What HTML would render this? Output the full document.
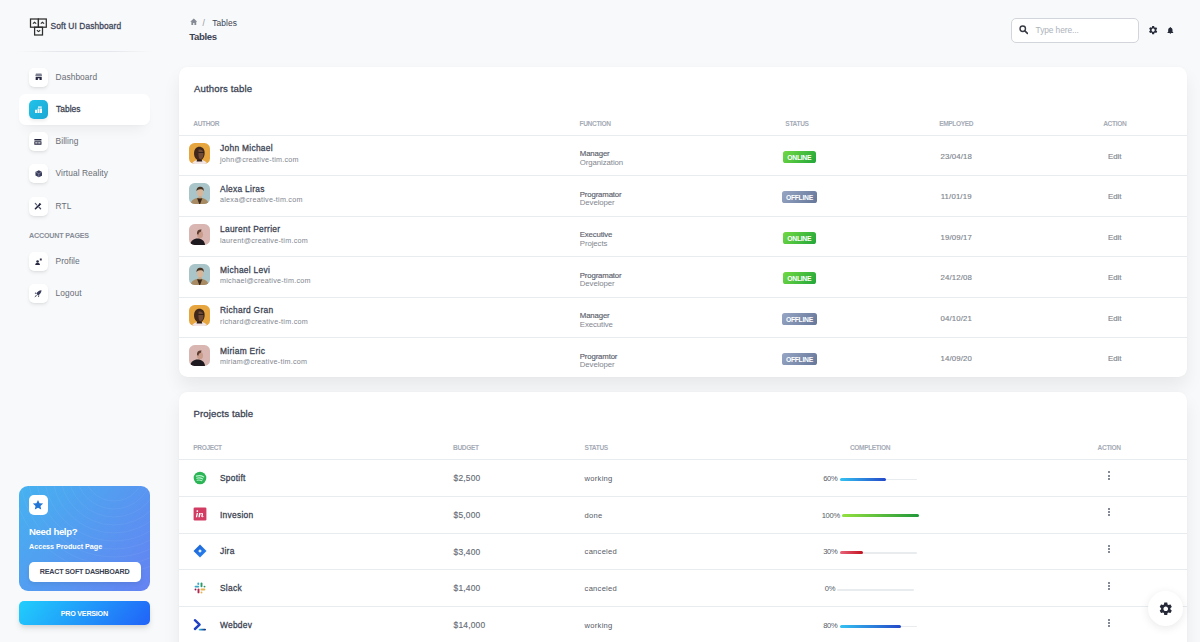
<!DOCTYPE html><html><head><meta charset="utf-8"><style>
*{margin:0;padding:0;box-sizing:border-box}
html,body{width:1200px;height:642px;overflow:hidden;background:#f8f9fa;font-family:"Liberation Sans",sans-serif}
.t{position:absolute;line-height:1;white-space:nowrap}
.a{position:absolute}
.card{position:absolute;background:#fff;border-radius:8.5px;box-shadow:0 10px 18px 0 rgba(0,0,0,.065),0 0 2px rgba(0,0,0,.03)}
.ib{position:absolute;width:19.2px;height:19.2px;border-radius:5px;background:#fff;box-shadow:0 2px 4px -1px rgba(20,20,20,.12),0 1px 2px -1px rgba(20,20,20,.08);display:flex;align-items:center;justify-content:center}
.hr{position:absolute;height:1px;background:#e9ecef}
</style></head><body>
<svg class="a" style="left:29px;top:17px" width="19" height="20" viewBox="0 0 19 20">
<g fill="none" stroke="#2e2e2e" stroke-width="1.25">
<rect x="1.5" y="2" width="7.9" height="8.2"/><rect x="9.4" y="2" width="7.9" height="8.2"/><rect x="5.6" y="10.2" width="7.9" height="7.8"/>
<path d="M3.9 6.6l1.65-1.3 1.65 1.3M11.8 6.6l1.65-1.3 1.65 1.3M7.9 13.3l1.65 1.3 1.65-1.3" stroke-width="1.2"/>
</g></svg>
<div class="t" style="left:50.60px;top:21.69px;font-size:8.4px;font-weight:400;-webkit-text-stroke:.28px #40465a;color:#40465a;letter-spacing:0.1px;">Soft UI Dashboard</div>
<div class="a" style="left:18px;top:50.5px;width:134px;height:1px;background:linear-gradient(90deg,rgba(52,71,103,0),rgba(52,71,103,.1) 30%,rgba(52,71,103,.1) 70%,rgba(52,71,103,0))"></div>
<div class="a" style="left:19.4px;top:93.7px;width:130.6px;height:31.4px;background:#fff;border-radius:6.5px;box-shadow:0 10px 14px -6px rgba(0,0,0,.06),0 1px 3px rgba(0,0,0,.02)"></div>
<div class="ib" style="left:28.8px;top:67.6px"><svg width="7.4" height="7.6" viewBox="0 0 10 10"><path d="M1.3.6h7.4l1 3.4H.3z" fill="#7d8192"/><path d="M.9 4.9h8.2v4.6H6.1V7.1H3.9v2.4H.9z" fill="#262842"/></svg></div>
<div class="t" style="left:55.60px;top:72.89px;font-size:8.4px;font-weight:400;color:#686d77;letter-spacing:0.06px;">Dashboard</div>
<div class="ib" style="left:28.8px;top:99.8px;background:linear-gradient(310deg,#1aa6d3,#21c3ea);box-shadow:0 2px 4px -1px rgba(20,20,20,.12)"><svg width="7.6" height="7.6" viewBox="0 0 10 10"><path d="M3.9.5h5v1.9h-5z" fill="#fff" opacity=".85"/><path d="M0 5h2.6v4.4H0zM3.3 3.4h2.7v6H3.3zM6.7 3.4H10v6H6.7z" fill="#fff"/></svg></div>
<div class="t" style="left:56.00px;top:104.89px;font-size:8.4px;font-weight:400;-webkit-text-stroke:.28px #3b4353;color:#3b4353;letter-spacing:0.05px;">Tables</div>
<div class="ib" style="left:28.8px;top:131.9px"><svg width="7.8" height="7.6" viewBox="0 0 10 10"><rect x=".3" y="1.2" width="9.4" height="2.2" rx=".4" fill="#262842"/><rect x=".3" y="4.4" width="9.4" height="4.4" rx=".4" fill="#262842"/><rect x="1.5" y="5.7" width="3.1" height="1.5" fill="#fff"/><rect x="5.4" y="5.7" width="3.1" height="1.5" fill="#fff"/></svg></div>
<div class="t" style="left:55.60px;top:137.19px;font-size:8.4px;font-weight:400;color:#686d77;letter-spacing:0.06px;">Billing</div>
<div class="ib" style="left:28.8px;top:164.3px"><svg width="7.6" height="7.6" viewBox="0 0 10 10"><path d="M5 .4l4.4 2.2v4.8L5 9.6.6 7.4V2.6z" fill="#3a3c5c"/><path d="M.6 2.6L5 4.8l4.4-2.2M5 4.8v4.8" stroke="#a3a7bd" stroke-width=".75" fill="none"/></svg></div>
<div class="t" style="left:55.60px;top:168.79px;font-size:8.4px;font-weight:400;color:#686d77;letter-spacing:0.06px;">Virtual Reality</div>
<div class="ib" style="left:28.8px;top:196.5px"><svg width="8" height="8" viewBox="0 0 10 10"><path d="M1.8 8.4l5.2-5.2" stroke="#262842" stroke-width="2" stroke-linecap="round"/><path d="M6.3 1.3a2.1 2.1 0 0 1 2.6 2.5L7.5 3.4 6.6 2.6z" fill="#262842"/><path d="M1.6 1.8l1.7 1.7" stroke="#5a5d72" stroke-width="1.5" stroke-linecap="round"/><path d="M6.2 6.4l2 2" stroke="#4a4d62" stroke-width="1.7" stroke-linecap="round"/></svg></div>
<div class="t" style="left:55.60px;top:201.79px;font-size:8.4px;font-weight:400;color:#686d77;letter-spacing:0.06px;">RTL</div>
<div class="t" style="left:29.00px;top:232.11px;font-size:7.2px;font-weight:700;color:#878d98;letter-spacing:-0.2px;">ACCOUNT PAGES</div>
<div class="ib" style="left:28.8px;top:252px"><svg width="7.6" height="7.6" viewBox="0 0 10 10"><circle cx="3.4" cy="4.6" r="1.7" fill="#262842"/><path d="M.2 9.6c0-2.2 1.4-3.2 3.2-3.2s3.2 1 3.2 3.2z" fill="#262842"/><path d="M6.4.6h1.4v2.8H6.4zM8.3.6h1.4v2.8H8.3z" fill="#262842"/></svg></div>
<div class="t" style="left:55.60px;top:256.89px;font-size:8.4px;font-weight:400;color:#686d77;letter-spacing:0.06px;">Profile</div>
<div class="ib" style="left:28.8px;top:284.3px"><svg width="7.8" height="7.8" viewBox="0 0 10 10"><path d="M9.6.4C6.6.6 4.3 2.1 3.1 4.8l2.1 2.1C7.9 5.7 9.4 3.4 9.6.4z" fill="#3a3c5c"/><path d="M3.1 4.8L.8 4.6 2.5 2.9zM5.2 6.9L5.4 9.2 7.1 7.5zM2.6 6.3L.4 9.6 3.7 7.4z" fill="#262842"/></svg></div>
<div class="t" style="left:55.60px;top:289.19px;font-size:8.4px;font-weight:400;color:#686d77;letter-spacing:0.06px;">Logout</div>
<div class="a" style="left:19.4px;top:486px;width:130.4px;height:104.6px;border-radius:9px;overflow:hidden;background:linear-gradient(310deg,#6582f2,#45b2f0)">
<svg class="a" style="left:0;top:0" width="131" height="105" viewBox="0 0 131 105"><g fill="none" stroke="#fff" stroke-opacity=".06" stroke-width="1">
<circle cx="95" cy="-15" r="30"/><circle cx="95" cy="-15" r="38"/><circle cx="95" cy="-15" r="46"/><circle cx="95" cy="-15" r="54"/><circle cx="95" cy="-15" r="62"/><circle cx="95" cy="-15" r="70"/><circle cx="95" cy="-15" r="78"/><circle cx="95" cy="-15" r="86"/><circle cx="95" cy="-15" r="94"/><circle cx="95" cy="-15" r="102"/></g></svg>
</div>
<div class="a" style="left:28.8px;top:495px;width:19.2px;height:20px;border-radius:5px;background:#fff;display:flex;align-items:center;justify-content:center"><svg width="12" height="12" viewBox="0 0 24 24"><path d="M12 1.8l3.1 6.6 7.2.8-5.4 4.9 1.5 7.1L12 17.6l-6.4 3.6 1.5-7.1L1.7 9.2l7.2-.8z" fill="#1f74d6"/></svg></div>
<div class="t" style="left:29.00px;top:526.87px;font-size:9.6px;font-weight:700;color:#fff;letter-spacing:-0.35px;">Need help?</div>
<div class="t" style="left:29.00px;top:542.71px;font-size:7.2px;font-weight:700;color:#fff;letter-spacing:-0.02px;">Access Product Page</div>
<div class="a" style="left:28.8px;top:562px;width:112.4px;height:20px;border-radius:5px;background:#fff;box-shadow:0 2px 4px rgba(0,0,0,.08)"></div>
<div class="t" style="left:-115.40px;width:400px;text-align:center;top:567.91px;font-size:7.2px;font-weight:700;color:#3b4353;letter-spacing:-0.25px;">REACT SOFT DASHBOARD</div>
<div class="a" style="left:19.4px;top:601px;width:130.4px;height:23.8px;border-radius:5px;background:linear-gradient(310deg,#2162f8,#21cffc);box-shadow:0 4px 7px -1px rgba(0,0,0,.11),0 2px 4px -1px rgba(0,0,0,.07)"></div>
<div class="t" style="left:-115.70px;width:400px;text-align:center;top:609.51px;font-size:7.2px;font-weight:700;color:#fff;letter-spacing:-0.25px;">PRO VERSION</div>
<svg class="a" style="left:189.8px;top:17.6px" width="7.6" height="7.6" viewBox="0 0 10 10"><path d="M5 .6L.3 5h1.5v4.4h2.4V6.7h1.6v2.7h2.4V5h1.5z" fill="#868b96"/></svg>
<div class="t" style="left:202.60px;top:18.89px;font-size:8.4px;font-weight:400;color:#8d93a0;">/</div>
<div class="t" style="left:212.30px;top:18.89px;font-size:8.4px;font-weight:400;color:#3b4353;letter-spacing:0.08px;">Tables</div>
<div class="t" style="left:189.30px;top:31.57px;font-size:9.6px;font-weight:700;color:#3b4353;letter-spacing:-0.38px;">Tables</div>
<div class="a" style="left:1011.4px;top:18.2px;width:127.5px;height:24.8px;border:1px solid #d2d6da;border-radius:5px;background:#fff"></div>
<svg class="a" style="left:1018.6px;top:25.4px" width="9.4" height="9.4" viewBox="0 0 10 10"><circle cx="4" cy="4" r="2.9" fill="none" stroke="#383b44" stroke-width="1.5"/><path d="M6.2 6.2l2.8 2.8" stroke="#383b44" stroke-width="1.7" stroke-linecap="round"/></svg>
<div class="t" style="left:1035.60px;top:26.49px;font-size:8.4px;font-weight:400;color:#adb3bb;letter-spacing:-0.1px;">Type here...</div>
<svg class="a" style="left:1147.6px;top:25.4px" width="10.3" height="10.3" viewBox="0 0 24 24"><path fill="#262a38" d="M19.14 12.94c.04-.3.06-.61.06-.94 0-.32-.02-.64-.07-.94l2.03-1.58c.18-.14.23-.41.12-.61l-1.92-3.32c-.12-.22-.37-.29-.59-.22l-2.39.96c-.5-.38-1.03-.7-1.62-.94l-.36-2.54c-.04-.24-.24-.41-.48-.41h-3.84c-.24 0-.43.17-.47.41l-.36 2.54c-.59.24-1.13.57-1.62.94l-2.39-.96c-.22-.08-.47 0-.59.22L2.74 8.87c-.12.21-.08.47.12.61l2.03 1.58c-.05.3-.09.63-.09.94s.02.64.07.94l-2.03 1.58c-.18.14-.23.41-.12.61l1.92 3.32c.12.22.37.29.59.22l2.39-.96c.5.38 1.03.7 1.62.94l.36 2.54c.05.24.24.41.48.41h3.84c.24 0 .44-.17.47-.41l.36-2.54c.59-.24 1.130-.56 1.62-.94l2.39.96c.22.08.47 0 .59-.22l1.92-3.32c.12-.22.07-.47-.12-.61l-2.01-1.58zM12 15.6c-1.98 0-3.6-1.62-3.6-3.6s1.62-3.6 3.6-3.6 3.6 1.62 3.6 3.6-1.62 3.6-3.6 3.6z"/></svg>
<svg class="a" style="left:1165.55px;top:25.8px" width="8.7" height="8.7" viewBox="0 0 24 24"><path fill="#262a38" d="M12 22c1.1 0 2-.9 2-2h-4c0 1.1.89 2 2 2zm6-6v-5c0-3.07-1.64-5.64-4.5-6.32V4c0-.83-.67-1.5-1.5-1.5s-1.5.67-1.5 1.5v.68C7.630 5.36 6 7.92 6 11v5l-2 2v1h16v-1l-2-2z"/></svg>
<div class="card" style="left:178.6px;top:66.8px;width:1008px;height:310.4px"></div>
<div class="t" style="left:194.00px;top:83.67px;font-size:9.6px;font-weight:400;-webkit-text-stroke:.28px #3b4353;color:#3b4353;letter-spacing:0.12px;">Authors table</div>
<div class="t" style="left:193.30px;top:120.51px;font-size:6.6px;font-weight:700;color:#a5abb6;letter-spacing:-0.4px;">AUTHOR</div>
<div class="t" style="left:579.60px;top:120.51px;font-size:6.6px;font-weight:700;color:#a5abb6;letter-spacing:-0.38px;">FUNCTION</div>
<div class="t" style="left:597.00px;width:400px;text-align:center;top:120.51px;font-size:6.6px;font-weight:700;color:#a5abb6;letter-spacing:-0.35px;">STATUS</div>
<div class="t" style="left:756.20px;width:400px;text-align:center;top:120.51px;font-size:6.6px;font-weight:700;color:#a5abb6;letter-spacing:-0.38px;">EMPLOYED</div>
<div class="t" style="left:914.80px;width:400px;text-align:center;top:120.51px;font-size:6.6px;font-weight:700;color:#a5abb6;letter-spacing:-0.35px;">ACTION</div>
<div class="hr" style="left:178.6px;top:134.5px;width:1008px"></div>
<div class="a" style="left:189.2px;top:142.8px;width:21.2px;height:21.2px;border-radius:5.6px;overflow:hidden;background:#e6a53e"><svg width="21.2" height="21.2" viewBox="0 0 21 21" style="display:block"><path d="M2.5 22c.5-3.5 3.5-5.5 8-5.5s7.5 2 8 5.5z" fill="#f0e4e4"/><path d="M5 10.5C5 6 7.2 3.8 10.3 3.8s5.2 2.2 5.2 6.2c0 3.8-2 7.3-5 7.3S5 14.8 5 10.5z" fill="#3f271c"/><path d="M9.5 6.5c2.5-.5 4.6.8 4.8 3.8.2 3-1.2 5.5-3.2 6-1.5-1-2-3.5-1.6-9.8z" fill="#6e4a37"/><path d="M9.2 9.4h5.6" stroke="#2a1a12" stroke-width=".9"/><path d="M8 16.5h4.6l.6 1.8H7.5z" fill="#2c1a12"/></svg></div>
<div class="t" style="left:220.00px;top:144.29px;font-size:8.4px;font-weight:400;-webkit-text-stroke:.28px #3b4353;color:#3b4353;letter-spacing:0.3px;">John Michael</div>
<div class="t" style="left:220.00px;top:155.71px;font-size:7.2px;font-weight:400;color:#81868f;letter-spacing:0.25px;">john@creative-tim.com</div>
<div class="t" style="left:579.80px;top:150.20px;font-size:7.8px;font-weight:400;-webkit-text-stroke:.15px #5b616c;color:#5b616c;letter-spacing:-0.15px;">Manager</div>
<div class="t" style="left:579.80px;top:158.50px;font-size:7.8px;font-weight:400;color:#81868f;letter-spacing:-0.08px;">Organization</div>
<div class="a" style="left:783px;top:150.70px;width:32.5px;height:12px;border-radius:2.6px;background:linear-gradient(310deg,#22a63a,#72d942)"></div>
<div class="t" style="left:599.25px;width:400px;text-align:center;top:154.94px;font-size:6.8px;font-weight:700;color:#fff;letter-spacing:-0.3px;">ONLINE</div>
<div class="t" style="left:756.20px;width:400px;text-align:center;top:152.50px;font-size:7.8px;font-weight:400;-webkit-text-stroke:.15px #81868f;color:#81868f;letter-spacing:0.15px;">23/04/18</div>
<div class="t" style="left:914.80px;width:400px;text-align:center;top:152.50px;font-size:7.8px;font-weight:400;-webkit-text-stroke:.15px #81868f;color:#81868f;">Edit</div>
<div class="hr" style="left:178.6px;top:175.30px;width:1008px"></div>
<div class="a" style="left:189.2px;top:183.3px;width:21.2px;height:21.2px;border-radius:5.6px;overflow:hidden;background:#a9c5c9"><svg width="21.2" height="21.2" viewBox="0 0 21 21" style="display:block"><path d="M1.5 22c0-4.8 3.5-7.5 9-7.5s9 2.7 9 7.5z" fill="#a98b63"/><path d="M8 15l2.6 7 2.6-7z" fill="#3a281a"/><ellipse cx="11" cy="9.4" rx="3.1" ry="4" fill="#d9b698"/><path d="M7.5 8.2c-.4-3.5 2.2-4.7 4.4-4.4 2 .3 3.1 1.7 2.6 4.5l-.9-1.6c-1.8-.6-3.8-.6-5.5.4z" fill="#4a3524"/><path d="M9.5 13.2h3v2h-3z" fill="#caa684"/></svg></div>
<div class="t" style="left:220.00px;top:184.79px;font-size:8.4px;font-weight:400;-webkit-text-stroke:.28px #3b4353;color:#3b4353;letter-spacing:0.3px;">Alexa Liras</div>
<div class="t" style="left:220.00px;top:196.21px;font-size:7.2px;font-weight:400;color:#81868f;letter-spacing:0.25px;">alexa@creative-tim.com</div>
<div class="t" style="left:579.80px;top:190.70px;font-size:7.8px;font-weight:400;-webkit-text-stroke:.15px #5b616c;color:#5b616c;letter-spacing:-0.15px;">Programator</div>
<div class="t" style="left:579.80px;top:199.00px;font-size:7.8px;font-weight:400;color:#81868f;letter-spacing:-0.08px;">Developer</div>
<div class="a" style="left:781.8px;top:191.20px;width:35.2px;height:12px;border-radius:2.6px;background:linear-gradient(310deg,#65769a,#97a6c3)"></div>
<div class="t" style="left:599.40px;width:400px;text-align:center;top:195.44px;font-size:6.8px;font-weight:700;color:#fff;letter-spacing:-0.3px;">OFFLINE</div>
<div class="t" style="left:756.20px;width:400px;text-align:center;top:193.00px;font-size:7.8px;font-weight:400;-webkit-text-stroke:.15px #81868f;color:#81868f;letter-spacing:0.15px;">11/01/19</div>
<div class="t" style="left:914.80px;width:400px;text-align:center;top:193.00px;font-size:7.8px;font-weight:400;-webkit-text-stroke:.15px #81868f;color:#81868f;">Edit</div>
<div class="hr" style="left:178.6px;top:215.80px;width:1008px"></div>
<div class="a" style="left:189.2px;top:223.8px;width:21.2px;height:21.2px;border-radius:5.6px;overflow:hidden;background:#d9b6b1"><svg width="21.2" height="21.2" viewBox="0 0 21 21" style="display:block"><path d="M1 22c0-4.8 3.3-7.6 7.6-7.6s7.4 2.8 7.4 7.6z" fill="#1d191e"/><ellipse cx="10.9" cy="10.4" rx="3" ry="3.8" fill="#c89b8a"/><path d="M7.9 9.8c-.3-3.4 1.9-4.8 4.6-4.3l-.8 2.1c-1.7.4-2.3 1.3-2.3 3z" fill="#5b3b30"/></svg></div>
<div class="t" style="left:220.00px;top:225.29px;font-size:8.4px;font-weight:400;-webkit-text-stroke:.28px #3b4353;color:#3b4353;letter-spacing:0.3px;">Laurent Perrier</div>
<div class="t" style="left:220.00px;top:236.71px;font-size:7.2px;font-weight:400;color:#81868f;letter-spacing:0.25px;">laurent@creative-tim.com</div>
<div class="t" style="left:579.80px;top:231.20px;font-size:7.8px;font-weight:400;-webkit-text-stroke:.15px #5b616c;color:#5b616c;letter-spacing:-0.15px;">Executive</div>
<div class="t" style="left:579.80px;top:239.50px;font-size:7.8px;font-weight:400;color:#81868f;letter-spacing:-0.08px;">Projects</div>
<div class="a" style="left:783px;top:231.70px;width:32.5px;height:12px;border-radius:2.6px;background:linear-gradient(310deg,#22a63a,#72d942)"></div>
<div class="t" style="left:599.25px;width:400px;text-align:center;top:235.94px;font-size:6.8px;font-weight:700;color:#fff;letter-spacing:-0.3px;">ONLINE</div>
<div class="t" style="left:756.20px;width:400px;text-align:center;top:233.50px;font-size:7.8px;font-weight:400;-webkit-text-stroke:.15px #81868f;color:#81868f;letter-spacing:0.15px;">19/09/17</div>
<div class="t" style="left:914.80px;width:400px;text-align:center;top:233.50px;font-size:7.8px;font-weight:400;-webkit-text-stroke:.15px #81868f;color:#81868f;">Edit</div>
<div class="hr" style="left:178.6px;top:256.30px;width:1008px"></div>
<div class="a" style="left:189.2px;top:264.3px;width:21.2px;height:21.2px;border-radius:5.6px;overflow:hidden;background:#a9c5c9"><svg width="21.2" height="21.2" viewBox="0 0 21 21" style="display:block"><path d="M1.5 22c0-4.8 3.5-7.5 9-7.5s9 2.7 9 7.5z" fill="#a98b63"/><path d="M8 15l2.6 7 2.6-7z" fill="#3a281a"/><ellipse cx="11" cy="9.4" rx="3.1" ry="4" fill="#d9b698"/><path d="M7.5 8.2c-.4-3.5 2.2-4.7 4.4-4.4 2 .3 3.1 1.7 2.6 4.5l-.9-1.6c-1.8-.6-3.8-.6-5.5.4z" fill="#4a3524"/><path d="M9.5 13.2h3v2h-3z" fill="#caa684"/></svg></div>
<div class="t" style="left:220.00px;top:265.79px;font-size:8.4px;font-weight:400;-webkit-text-stroke:.28px #3b4353;color:#3b4353;letter-spacing:0.3px;">Michael Levi</div>
<div class="t" style="left:220.00px;top:277.21px;font-size:7.2px;font-weight:400;color:#81868f;letter-spacing:0.25px;">michael@creative-tim.com</div>
<div class="t" style="left:579.80px;top:271.70px;font-size:7.8px;font-weight:400;-webkit-text-stroke:.15px #5b616c;color:#5b616c;letter-spacing:-0.15px;">Programator</div>
<div class="t" style="left:579.80px;top:280.00px;font-size:7.8px;font-weight:400;color:#81868f;letter-spacing:-0.08px;">Developer</div>
<div class="a" style="left:783px;top:272.20px;width:32.5px;height:12px;border-radius:2.6px;background:linear-gradient(310deg,#22a63a,#72d942)"></div>
<div class="t" style="left:599.25px;width:400px;text-align:center;top:276.44px;font-size:6.8px;font-weight:700;color:#fff;letter-spacing:-0.3px;">ONLINE</div>
<div class="t" style="left:756.20px;width:400px;text-align:center;top:274.00px;font-size:7.8px;font-weight:400;-webkit-text-stroke:.15px #81868f;color:#81868f;letter-spacing:0.15px;">24/12/08</div>
<div class="t" style="left:914.80px;width:400px;text-align:center;top:274.00px;font-size:7.8px;font-weight:400;-webkit-text-stroke:.15px #81868f;color:#81868f;">Edit</div>
<div class="hr" style="left:178.6px;top:296.80px;width:1008px"></div>
<div class="a" style="left:189.2px;top:304.8px;width:21.2px;height:21.2px;border-radius:5.6px;overflow:hidden;background:#e6a53e"><svg width="21.2" height="21.2" viewBox="0 0 21 21" style="display:block"><path d="M2.5 22c.5-3.5 3.5-5.5 8-5.5s7.5 2 8 5.5z" fill="#f0e4e4"/><path d="M5 10.5C5 6 7.2 3.8 10.3 3.8s5.2 2.2 5.2 6.2c0 3.8-2 7.3-5 7.3S5 14.8 5 10.5z" fill="#3f271c"/><path d="M9.5 6.5c2.5-.5 4.6.8 4.8 3.8.2 3-1.2 5.5-3.2 6-1.5-1-2-3.5-1.6-9.8z" fill="#6e4a37"/><path d="M9.2 9.4h5.6" stroke="#2a1a12" stroke-width=".9"/><path d="M8 16.5h4.6l.6 1.8H7.5z" fill="#2c1a12"/></svg></div>
<div class="t" style="left:220.00px;top:306.29px;font-size:8.4px;font-weight:400;-webkit-text-stroke:.28px #3b4353;color:#3b4353;letter-spacing:0.3px;">Richard Gran</div>
<div class="t" style="left:220.00px;top:317.71px;font-size:7.2px;font-weight:400;color:#81868f;letter-spacing:0.25px;">richard@creative-tim.com</div>
<div class="t" style="left:579.80px;top:312.20px;font-size:7.8px;font-weight:400;-webkit-text-stroke:.15px #5b616c;color:#5b616c;letter-spacing:-0.15px;">Manager</div>
<div class="t" style="left:579.80px;top:320.50px;font-size:7.8px;font-weight:400;color:#81868f;letter-spacing:-0.08px;">Executive</div>
<div class="a" style="left:781.8px;top:312.70px;width:35.2px;height:12px;border-radius:2.6px;background:linear-gradient(310deg,#65769a,#97a6c3)"></div>
<div class="t" style="left:599.40px;width:400px;text-align:center;top:316.94px;font-size:6.8px;font-weight:700;color:#fff;letter-spacing:-0.3px;">OFFLINE</div>
<div class="t" style="left:756.20px;width:400px;text-align:center;top:314.50px;font-size:7.8px;font-weight:400;-webkit-text-stroke:.15px #81868f;color:#81868f;letter-spacing:0.15px;">04/10/21</div>
<div class="t" style="left:914.80px;width:400px;text-align:center;top:314.50px;font-size:7.8px;font-weight:400;-webkit-text-stroke:.15px #81868f;color:#81868f;">Edit</div>
<div class="hr" style="left:178.6px;top:337.30px;width:1008px"></div>
<div class="a" style="left:189.2px;top:345.3px;width:21.2px;height:21.2px;border-radius:5.6px;overflow:hidden;background:#d9b6b1"><svg width="21.2" height="21.2" viewBox="0 0 21 21" style="display:block"><path d="M1 22c0-4.8 3.3-7.6 7.6-7.6s7.4 2.8 7.4 7.6z" fill="#1d191e"/><ellipse cx="10.9" cy="10.4" rx="3" ry="3.8" fill="#c89b8a"/><path d="M7.9 9.8c-.3-3.4 1.9-4.8 4.6-4.3l-.8 2.1c-1.7.4-2.3 1.3-2.3 3z" fill="#5b3b30"/></svg></div>
<div class="t" style="left:220.00px;top:346.79px;font-size:8.4px;font-weight:400;-webkit-text-stroke:.28px #3b4353;color:#3b4353;letter-spacing:0.3px;">Miriam Eric</div>
<div class="t" style="left:220.00px;top:358.21px;font-size:7.2px;font-weight:400;color:#81868f;letter-spacing:0.25px;">miriam@creative-tim.com</div>
<div class="t" style="left:579.80px;top:352.70px;font-size:7.8px;font-weight:400;-webkit-text-stroke:.15px #5b616c;color:#5b616c;letter-spacing:-0.15px;">Programtor</div>
<div class="t" style="left:579.80px;top:361.00px;font-size:7.8px;font-weight:400;color:#81868f;letter-spacing:-0.08px;">Developer</div>
<div class="a" style="left:781.8px;top:353.20px;width:35.2px;height:12px;border-radius:2.6px;background:linear-gradient(310deg,#65769a,#97a6c3)"></div>
<div class="t" style="left:599.40px;width:400px;text-align:center;top:357.44px;font-size:6.8px;font-weight:700;color:#fff;letter-spacing:-0.3px;">OFFLINE</div>
<div class="t" style="left:756.20px;width:400px;text-align:center;top:355.00px;font-size:7.8px;font-weight:400;-webkit-text-stroke:.15px #81868f;color:#81868f;letter-spacing:0.15px;">14/09/20</div>
<div class="t" style="left:914.80px;width:400px;text-align:center;top:355.00px;font-size:7.8px;font-weight:400;-webkit-text-stroke:.15px #81868f;color:#81868f;">Edit</div>
<div class="card" style="left:178.6px;top:391.6px;width:1008px;height:300px"></div>
<div class="t" style="left:193.50px;top:409.07px;font-size:9.6px;font-weight:400;-webkit-text-stroke:.28px #3b4353;color:#3b4353;letter-spacing:0.12px;">Projects table</div>
<div class="t" style="left:193.30px;top:445.31px;font-size:6.6px;font-weight:700;color:#a5abb6;letter-spacing:-0.4px;">PROJECT</div>
<div class="t" style="left:453.00px;top:445.31px;font-size:6.6px;font-weight:700;color:#a5abb6;letter-spacing:-0.38px;">BUDGET</div>
<div class="t" style="left:584.60px;top:445.31px;font-size:6.6px;font-weight:700;color:#a5abb6;letter-spacing:-0.35px;">STATUS</div>
<div class="t" style="left:670.00px;width:400px;text-align:center;top:445.31px;font-size:6.6px;font-weight:700;color:#a5abb6;letter-spacing:-0.38px;">COMPLETION</div>
<div class="t" style="left:909.20px;width:400px;text-align:center;top:445.31px;font-size:6.6px;font-weight:700;color:#a5abb6;letter-spacing:-0.35px;">ACTION</div>
<div class="hr" style="left:178.6px;top:459px;width:1008px"></div>
<svg class="a" style="left:192.6px;top:470.60px" width="14" height="14" viewBox="0 0 14 14"><circle cx="7" cy="7" r="6.3" fill="#2bb556"/><path d="M3.3 5.1c2.4-.7 5.3-.5 7.4.8M3.7 7.2c2-.5 4.3-.3 6 .7M4.1 9.2c1.6-.4 3.3-.2 4.7.5" stroke="#b8f5cc" stroke-width="1.15" stroke-linecap="round" fill="none"/></svg>
<div class="t" style="left:219.90px;top:473.89px;font-size:8.4px;font-weight:400;-webkit-text-stroke:.28px #3b4353;color:#3b4353;letter-spacing:0.3px;">Spotift</div>
<div class="t" style="left:453.60px;top:473.99px;font-size:8.4px;font-weight:400;-webkit-text-stroke:.15px #686d77;color:#686d77;letter-spacing:0.2px;">$2,500</div>
<div class="t" style="left:584.60px;top:474.87px;font-size:7.6px;font-weight:400;color:#555b66;letter-spacing:0.25px;">working</div>
<div class="t" style="left:437.50px;width:400px;text-align:right;top:474.77px;font-size:7.6px;font-weight:400;color:#555b66;letter-spacing:-0.3px;">60%</div>
<div class="a" style="left:839.8px;top:478.60px;width:77px;height:1.5px;background:#e9ecef;border-radius:1px"></div>
<div class="a" style="left:839.8px;top:477.60px;width:46.20px;height:3.1px;background:linear-gradient(90deg,#34c2f2,#2449c8);border-radius:2px"></div>
<div class="a" style="left:1108.3px;top:471.40px;width:2.1px;height:2.1px;border-radius:50%;background:#5d6473"></div>
<div class="a" style="left:1108.3px;top:474.50px;width:2.1px;height:2.1px;border-radius:50%;background:#5d6473"></div>
<div class="a" style="left:1108.3px;top:477.60px;width:2.1px;height:2.1px;border-radius:50%;background:#5d6473"></div>
<div class="hr" style="left:178.6px;top:495.80px;width:1008px"></div>
<svg class="a" style="left:192.6px;top:507.40px" width="14" height="14" viewBox="0 0 14 14"><rect x=".6" y=".6" width="12.8" height="12.8" rx="1.2" fill="#d23c63"/><circle cx="4.3" cy="4.1" r=".9" fill="#fff"/><path d="M3.7 6h1.3l-.9 4.3H2.8zM6.1 6h1.2l-.1.6c.5-.5 1-.7 1.6-.7 1 0 1.4.7 1.2 1.6l-.4 1.7c-.1.3 0 .4.2.4.3 0 .6-.2.8-.6l.3.3c-.4.7-1 1-1.6 1-.8 0-1.1-.5-1-1.2l.4-1.7c.1-.4 0-.6-.4-.6-.5 0-.9.4-1 .9l-.5 2.5H5.4z" fill="#fff"/></svg>
<div class="t" style="left:219.90px;top:510.69px;font-size:8.4px;font-weight:400;-webkit-text-stroke:.28px #3b4353;color:#3b4353;letter-spacing:0.3px;">Invesion</div>
<div class="t" style="left:453.60px;top:510.79px;font-size:8.4px;font-weight:400;-webkit-text-stroke:.15px #686d77;color:#686d77;letter-spacing:0.2px;">$5,000</div>
<div class="t" style="left:584.60px;top:511.67px;font-size:7.6px;font-weight:400;color:#555b66;letter-spacing:0.25px;">done</div>
<div class="t" style="left:439.90px;width:400px;text-align:right;top:511.57px;font-size:7.6px;font-weight:400;color:#555b66;letter-spacing:-0.3px;">100%</div>
<div class="a" style="left:842.2px;top:515.40px;width:77px;height:1.5px;background:#e9ecef;border-radius:1px"></div>
<div class="a" style="left:842.2px;top:514.40px;width:77.00px;height:3.1px;background:linear-gradient(90deg,#93e040,#22983a);border-radius:2px"></div>
<div class="a" style="left:1108.3px;top:508.20px;width:2.1px;height:2.1px;border-radius:50%;background:#5d6473"></div>
<div class="a" style="left:1108.3px;top:511.30px;width:2.1px;height:2.1px;border-radius:50%;background:#5d6473"></div>
<div class="a" style="left:1108.3px;top:514.40px;width:2.1px;height:2.1px;border-radius:50%;background:#5d6473"></div>
<div class="hr" style="left:178.6px;top:532.60px;width:1008px"></div>
<svg class="a" style="left:192.6px;top:544.20px" width="14" height="14" viewBox="0 0 14 14"><defs><linearGradient id="jg" x1="0" y1="0" x2="1" y2="1"><stop offset="0" stop-color="#1a5fd0"/><stop offset="1" stop-color="#2a86f5"/></linearGradient></defs><path d="M7 .5L13.5 7 7 13.5.5 7z" fill="url(#jg)"/><path d="M7 5.2L8.8 7 7 8.8 5.2 7z" fill="#e8f4ff"/></svg>
<div class="t" style="left:219.90px;top:547.49px;font-size:8.4px;font-weight:400;-webkit-text-stroke:.28px #3b4353;color:#3b4353;letter-spacing:0.3px;">Jira</div>
<div class="t" style="left:453.60px;top:547.59px;font-size:8.4px;font-weight:400;-webkit-text-stroke:.15px #686d77;color:#686d77;letter-spacing:0.2px;">$3,400</div>
<div class="t" style="left:584.60px;top:548.47px;font-size:7.6px;font-weight:400;color:#555b66;letter-spacing:0.25px;">canceled</div>
<div class="t" style="left:437.50px;width:400px;text-align:right;top:548.37px;font-size:7.6px;font-weight:400;color:#555b66;letter-spacing:-0.3px;">30%</div>
<div class="a" style="left:839.8px;top:552.20px;width:77px;height:1.5px;background:#e9ecef;border-radius:1px"></div>
<div class="a" style="left:839.8px;top:551.20px;width:23.10px;height:3.1px;background:linear-gradient(90deg,#e8647a,#c2121e);border-radius:2px"></div>
<div class="a" style="left:1108.3px;top:545.00px;width:2.1px;height:2.1px;border-radius:50%;background:#5d6473"></div>
<div class="a" style="left:1108.3px;top:548.10px;width:2.1px;height:2.1px;border-radius:50%;background:#5d6473"></div>
<div class="a" style="left:1108.3px;top:551.20px;width:2.1px;height:2.1px;border-radius:50%;background:#5d6473"></div>
<div class="hr" style="left:178.6px;top:569.40px;width:1008px"></div>
<svg class="a" style="left:192.6px;top:581.00px" width="14" height="14" viewBox="0 0 14 14"><g stroke-linecap="round" stroke-width="1.9"><path d="M5.3 2.5v.6" stroke="#3aa7c4"/><path d="M2.5 5.6h2.8" stroke="#3aa7c4"/><path d="M8.5 2.5v2.8" stroke="#2a9a6a"/><path d="M11.5 5.6h0" stroke="#2a9a6a"/><path d="M2.5 8.5h0" stroke="#8a1f50"/><path d="M5.5 8.5v2.9" stroke="#b3254f"/><path d="M8.5 8.5h2.9" stroke="#e6b450"/><path d="M8.5 11.5h0" stroke="#e6b450"/></g></svg>
<div class="t" style="left:219.90px;top:584.29px;font-size:8.4px;font-weight:400;-webkit-text-stroke:.28px #3b4353;color:#3b4353;letter-spacing:0.3px;">Slack</div>
<div class="t" style="left:453.60px;top:584.39px;font-size:8.4px;font-weight:400;-webkit-text-stroke:.15px #686d77;color:#686d77;letter-spacing:0.2px;">$1,400</div>
<div class="t" style="left:584.60px;top:585.27px;font-size:7.6px;font-weight:400;color:#555b66;letter-spacing:0.25px;">canceled</div>
<div class="t" style="left:435.10px;width:400px;text-align:right;top:585.17px;font-size:7.6px;font-weight:400;color:#555b66;letter-spacing:-0.3px;">0%</div>
<div class="a" style="left:837.2px;top:589.00px;width:77px;height:1.5px;background:#e9ecef;border-radius:1px"></div>
<div class="a" style="left:1108.3px;top:581.80px;width:2.1px;height:2.1px;border-radius:50%;background:#5d6473"></div>
<div class="a" style="left:1108.3px;top:584.90px;width:2.1px;height:2.1px;border-radius:50%;background:#5d6473"></div>
<div class="a" style="left:1108.3px;top:588.00px;width:2.1px;height:2.1px;border-radius:50%;background:#5d6473"></div>
<div class="hr" style="left:178.6px;top:606.20px;width:1008px"></div>
<svg class="a" style="left:192.6px;top:617.80px" width="14" height="14" viewBox="0 0 14 14"><defs><linearGradient id="wg" gradientUnits="userSpaceOnUse" x1="6" y1="12" x2="12.5" y2="12"><stop offset="0" stop-color="#30c0e8"/><stop offset="1" stop-color="#0c1f7a"/></linearGradient></defs><path d="M1.9 2.2L6.6 6.6 1.9 11" stroke="#1f3fc4" stroke-width="2.4" stroke-linecap="round" stroke-linejoin="round" fill="none"/><path d="M6.6 11.6h5.4" stroke="url(#wg)" stroke-width="1.9" stroke-linecap="round"/></svg>
<div class="t" style="left:219.90px;top:621.09px;font-size:8.4px;font-weight:400;-webkit-text-stroke:.28px #3b4353;color:#3b4353;letter-spacing:0.3px;">Webdev</div>
<div class="t" style="left:453.60px;top:621.19px;font-size:8.4px;font-weight:400;-webkit-text-stroke:.15px #686d77;color:#686d77;letter-spacing:0.2px;">$14,000</div>
<div class="t" style="left:584.60px;top:622.07px;font-size:7.6px;font-weight:400;color:#555b66;letter-spacing:0.25px;">working</div>
<div class="t" style="left:437.50px;width:400px;text-align:right;top:621.97px;font-size:7.6px;font-weight:400;color:#555b66;letter-spacing:-0.3px;">80%</div>
<div class="a" style="left:839.8px;top:625.80px;width:77px;height:1.5px;background:#e9ecef;border-radius:1px"></div>
<div class="a" style="left:839.8px;top:624.80px;width:61.60px;height:3.1px;background:linear-gradient(90deg,#34c2f2,#2449c8);border-radius:2px"></div>
<div class="a" style="left:1108.3px;top:618.60px;width:2.1px;height:2.1px;border-radius:50%;background:#5d6473"></div>
<div class="a" style="left:1108.3px;top:621.70px;width:2.1px;height:2.1px;border-radius:50%;background:#5d6473"></div>
<div class="a" style="left:1108.3px;top:624.80px;width:2.1px;height:2.1px;border-radius:50%;background:#5d6473"></div>
<div class="a" style="left:1148px;top:590.6px;width:35px;height:35px;border-radius:50%;background:#fff;box-shadow:0 2px 10px 0 rgba(0,0,0,.09)"></div>
<svg class="a" style="left:1158.3px;top:600.7px" width="15.5" height="15.5" viewBox="0 0 24 24"><path fill="#262a38" d="M19.14 12.94c.04-.3.06-.61.06-.94 0-.32-.02-.64-.07-.94l2.03-1.58c.18-.14.23-.41.12-.61l-1.92-3.32c-.12-.22-.37-.29-.59-.22l-2.39.96c-.5-.38-1.03-.7-1.62-.94l-.36-2.54c-.04-.24-.24-.41-.48-.41h-3.84c-.24 0-.43.17-.47.41l-.36 2.54c-.59.24-1.13.57-1.62.94l-2.39-.96c-.22-.08-.47 0-.59.22L2.74 8.87c-.12.21-.08.47.12.61l2.03 1.58c-.05.3-.09.63-.09.94s.02.64.07.94l-2.03 1.58c-.18.14-.23.41-.12.61l1.92 3.32c.12.22.37.29.59.22l2.39-.96c.5.38 1.03.7 1.62.94l.36 2.54c.05.24.24.41.48.41h3.84c.24 0 .44-.17.47-.41l.36-2.54c.59-.24 1.130-.56 1.62-.94l2.39.96c.22.08.47 0 .59-.22l1.92-3.32c.12-.22.07-.47-.12-.61l-2.01-1.58zM12 15.6c-1.98 0-3.6-1.62-3.6-3.6s1.62-3.6 3.6-3.6 3.6 1.62 3.6 3.6-1.62 3.6-3.6 3.6z"/></svg>
</body></html>
